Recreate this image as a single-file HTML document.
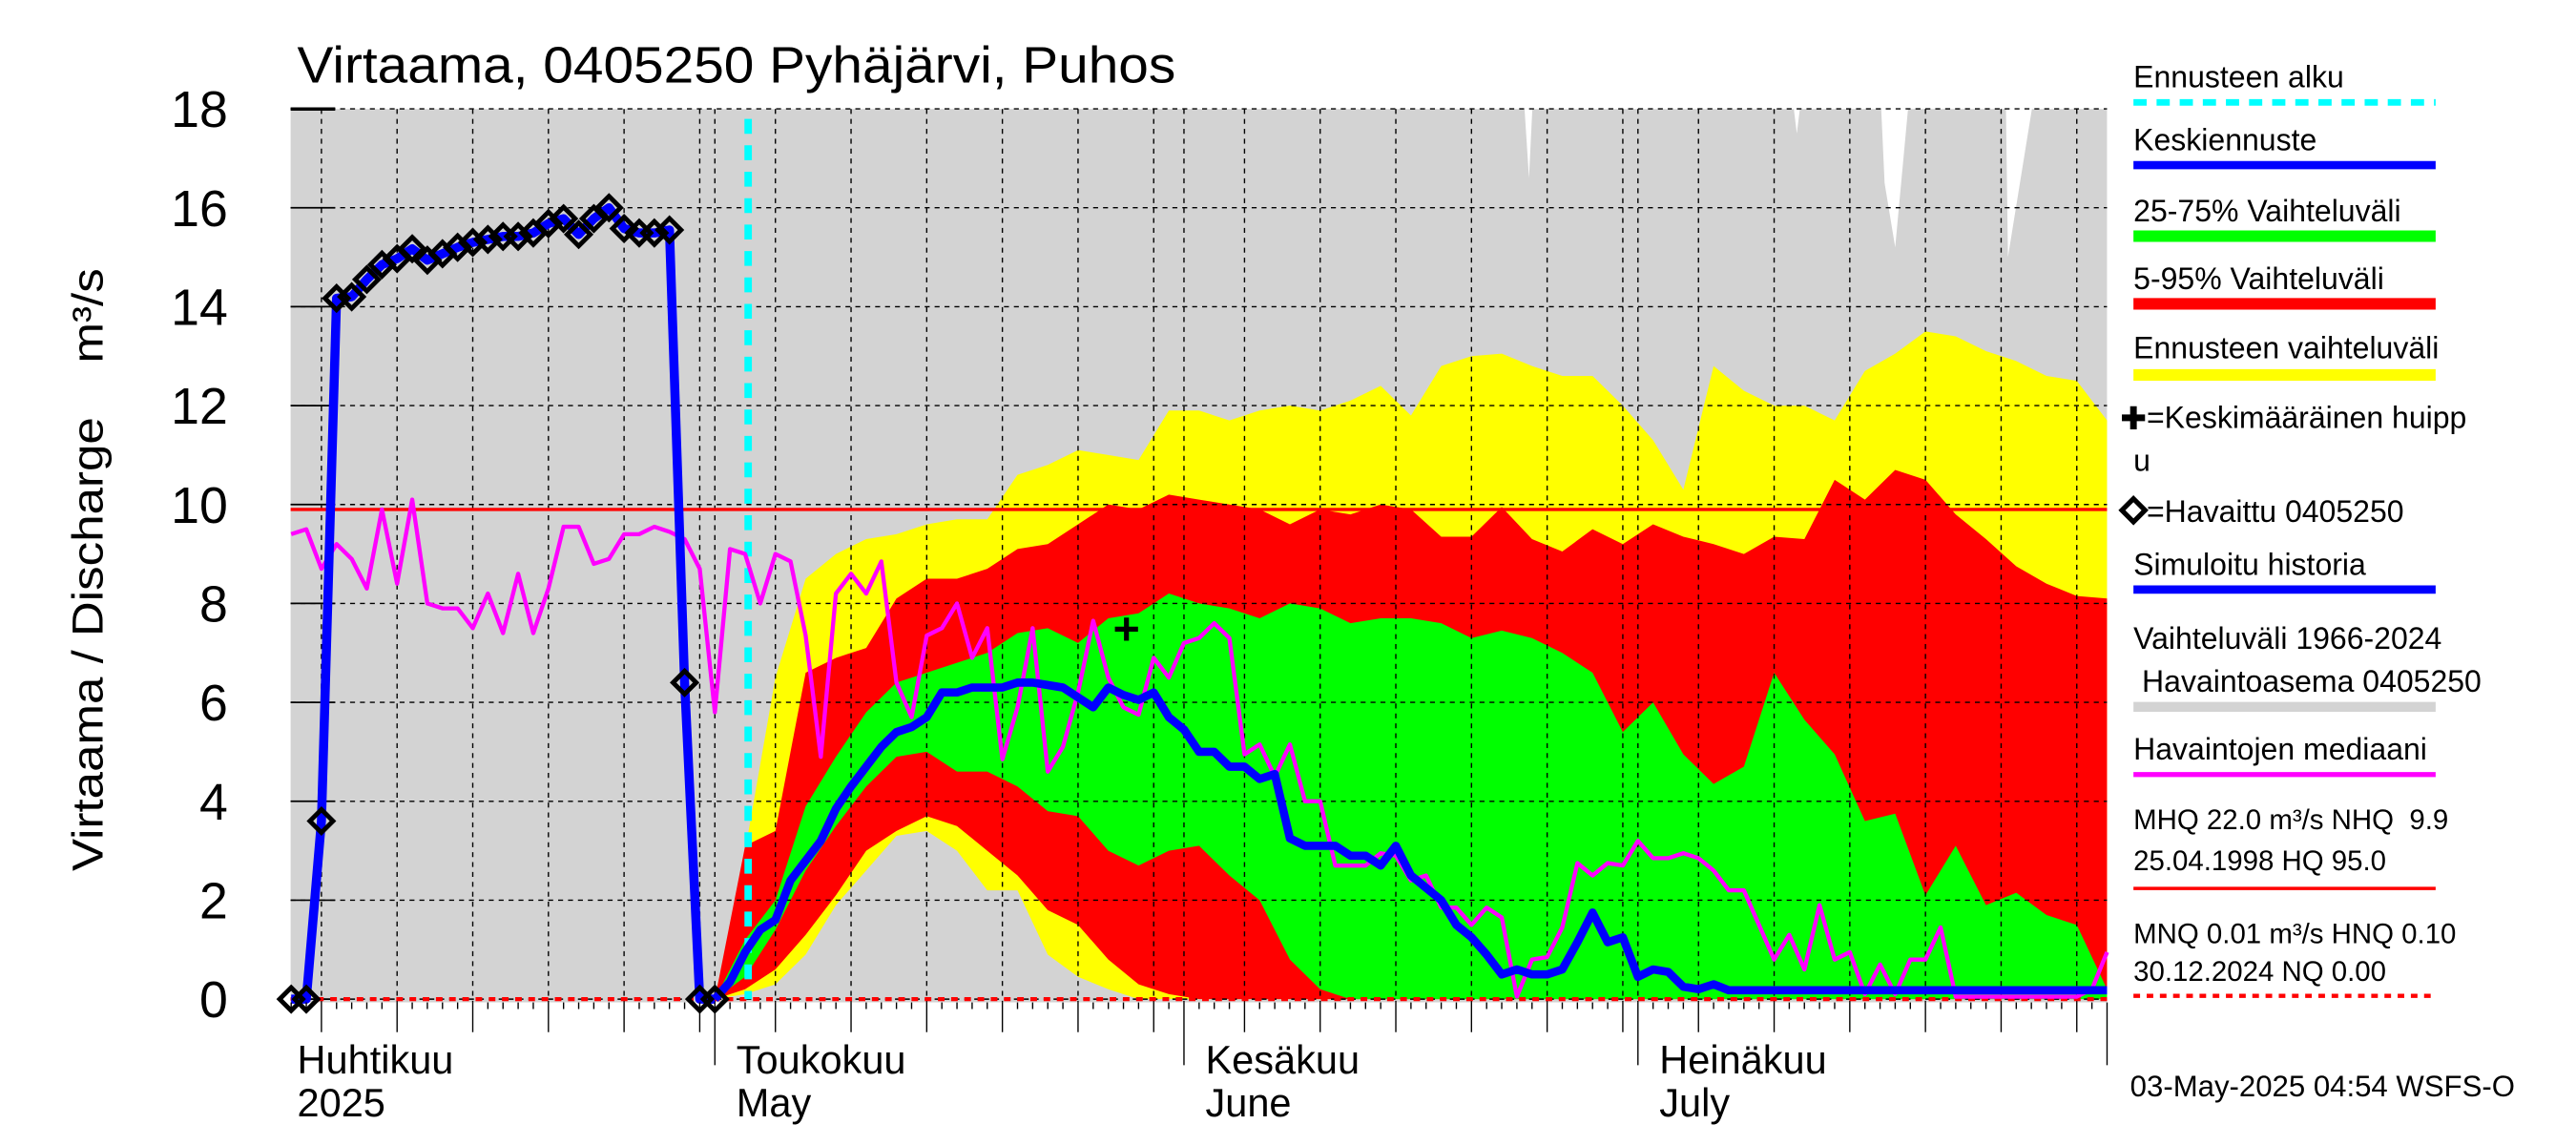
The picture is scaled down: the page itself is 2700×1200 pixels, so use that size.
<!DOCTYPE html>
<html><head><meta charset="utf-8"><title>Virtaama 0405250 Pyhäjärvi, Puhos</title>
<style>html,body{margin:0;padding:0;background:#fff;}svg{display:block;font-family:"Liberation Sans",Arial,sans-serif;}</style>
</head><body>
<svg id="chart" xmlns="http://www.w3.org/2000/svg" width="2700" height="1200" viewBox="0 0 1560 693.33" preserveAspectRatio="none">
<defs><clipPath id="plotclip"><rect x="176" y="66" width="1100" height="541"/></clipPath></defs>
<rect x="0" y="0" width="1560" height="693.33" fill="#fff"/>
<text x="180" y="50" font-size="31" textLength="532" lengthAdjust="spacingAndGlyphs">Virtaama, 0405250 Pyhäjärvi, Puhos</text>
<g id="bands" clip-path="url(#plotclip)"></g>
<g id="grid"></g>
<g id="lines"></g>
<g id="axes"></g>
<text transform="translate(62,345) rotate(-90)" font-size="26" text-anchor="middle" textLength="365" lengthAdjust="spacingAndGlyphs" xml:space="preserve" style="white-space:pre">Virtaama / Discharge    m³/s</text>
<g id="legend" font-size="18.5">
<text x="1292" y="53">Ennusteen alku</text>
<line x1="1292" y1="62" x2="1475" y2="62" stroke="#00ffff" stroke-width="4" stroke-dasharray="8,6"/>
<text x="1292" y="91">Keskiennuste</text>
<line x1="1292" y1="100" x2="1475" y2="100" stroke="#0000ff" stroke-width="5"/>
<text x="1292" y="134">25-75% Vaihteluväli</text>
<line x1="1292" y1="143" x2="1475" y2="143" stroke="#00ff00" stroke-width="7"/>
<text x="1292" y="175">5-95% Vaihteluväli</text>
<line x1="1292" y1="184" x2="1475" y2="184" stroke="#ff0000" stroke-width="7"/>
<text x="1292" y="217">Ennusteen vaihteluväli</text>
<line x1="1292" y1="227" x2="1475" y2="227" stroke="#ffff00" stroke-width="7"/>
<path d="M1285,253 h14 M1292,246 v14" stroke="#000" stroke-width="4"/>
<text x="1300" y="259">=Keskimääräinen huipp</text>
<text x="1292" y="285">u</text>
<path d="M1292,302 l7,7 l-7,7 l-7,-7 z" fill="none" stroke="#000" stroke-width="3"/>
<text x="1300" y="316">=Havaittu 0405250</text>
<text x="1292" y="348">Simuloitu historia</text>
<line x1="1292" y1="357" x2="1475" y2="357" stroke="#0000ff" stroke-width="5"/>
<text x="1292" y="393">Vaihteluväli 1966-2024</text>
<text x="1292" y="419" xml:space="preserve" style="white-space:pre"> Havaintoasema 0405250</text>
<line x1="1292" y1="428" x2="1475" y2="428" stroke="#d3d3d3" stroke-width="6"/>
<text x="1292" y="460">Havaintojen mediaani</text>
<line x1="1292" y1="469" x2="1475" y2="469" stroke="#ff00ff" stroke-width="3"/>
<text x="1292" y="502" font-size="17" xml:space="preserve" style="white-space:pre">MHQ 22.0 m³/s NHQ  9.9</text>
<text x="1292" y="527" font-size="17">25.04.1998 HQ 95.0</text>
<line x1="1292" y1="538" x2="1475" y2="538" stroke="#ff0000" stroke-width="2"/>
<text x="1292" y="571" font-size="17">MNQ 0.01 m³/s HNQ 0.10</text>
<text x="1292" y="594" font-size="17">30.12.2024 NQ 0.00</text>
<line x1="1292" y1="603" x2="1475" y2="603" stroke="#ff0000" stroke-width="2.5" stroke-dasharray="4,4"/>
<text x="1290" y="664" font-size="18">03-May-2025 04:54 WSFS-O</text>
</g>
</svg>
<script>
// ---- data ----
var obsStartDay = 2;
var observed = [0,0,3.6,14.17,14.2,14.55,14.85,14.97,15.17,14.94,15.07,15.2,15.3,15.36,15.42,15.42,15.49,15.68,15.78,15.46,15.78,16.0,15.58,15.49,15.49,15.55,6.4,0,0];
var fcStartDay = 30;
var meanForecast = [0,0.35,0.95,1.4,1.6,2.4,2.8,3.2,3.85,4.3,4.7,5.1,5.4,5.5,5.7,6.2,6.2,6.3,6.3,6.3,6.4,6.4,6.35,6.3,6.1,5.9,6.3,6.15,6.05,6.2,5.7,5.45,5.0,5.0,4.7,4.7,4.45,4.55,3.25,3.1,3.1,3.1,2.9,2.9,2.7,3.1,2.5,2.25,2.0,1.5,1.25,0.9,0.5,0.6,0.5,0.5,0.6,1.15,1.75,1.15,1.25,0.45,0.6,0.55,0.25,0.2,0.3,0.18,0.18,0.18,0.18,0.18,0.18,0.18,0.18,0.18,0.18,0.18,0.18,0.18,0.18,0.18,0.18,0.18,0.18,0.18,0.18,0.18,0.18,0.18,0.18,0.18,0.18];
var bandStartDay = 30, bandStep = 2;
var fcMax = [0,3.0,6.5,8.5,9.0,9.3,9.4,9.6,9.7,9.7,10.6,10.8,11.1,11.0,10.9,11.9,11.9,11.7,11.9,12.0,11.9,12.1,12.4,11.8,12.8,13.0,13.05,12.8,12.6,12.6,12.0,11.3,10.3,12.8,12.3,12.0,12.0,11.7,12.7,13.05,13.5,13.4,13.1,12.9,12.6,12.5,11.7];
var q95 = [0,3.1,3.4,6.6,6.9,7.1,8.1,8.5,8.5,8.7,9.1,9.2,9.6,10.0,9.9,10.2,10.1,10.0,9.9,9.6,9.9,9.8,10.0,9.9,9.35,9.35,9.95,9.3,9.05,9.5,9.2,9.6,9.35,9.2,9.0,9.35,9.3,10.5,10.1,10.7,10.5,9.8,9.3,8.75,8.4,8.15,8.1];
var q75 = [0,1.2,2.0,3.9,4.9,5.8,6.4,6.6,6.8,7.0,7.4,7.5,7.2,7.7,7.8,8.2,8.0,7.9,7.7,8.0,7.9,7.6,7.7,7.7,7.6,7.3,7.45,7.3,7.0,6.6,5.4,6.0,4.95,4.35,4.7,6.6,5.65,4.95,3.6,3.75,2.1,3.1,1.9,2.15,1.7,1.5,0.2];
var q25 = [0,0.45,1.4,2.6,3.5,4.3,4.9,5.0,4.6,4.6,4.3,3.8,3.7,3.0,2.7,3.0,3.1,2.5,2.0,0.8,0.2,0,0,0,0,0,0,0,0,0,0,0,0,0,0,0,0,0,0,0,0,0,0,0,0,0,0];
var q05 = [0,0.2,0.6,1.3,2.1,3.0,3.4,3.7,3.5,3.0,2.5,1.8,1.5,0.8,0.3,0.1,0,0,0,0,0,0,0,0,0,0,0,0,0,0,0,0,0,0,0,0,0,0,0,0,0,0,0,0,0,0,0];
var fcMin = [0,0.1,0.3,0.9,1.9,2.6,3.3,3.4,3.0,2.2,2.2,0.9,0.45,0.2,0,0,0,0,0,0,0,0,0,0,0,0,0,0,0,0,0,0,0,0,0,0,0,0,0,0,0,0,0,0,0,0,0];
var medStartDay = 2;
var median = [9.4,9.5,8.7,9.2,8.9,8.3,9.9,8.4,10.1,8.0,7.9,7.9,7.5,8.2,7.4,8.6,7.4,8.3,9.55,9.55,8.8,8.9,9.4,9.4,9.55,9.45,9.3,8.7,5.8,
9.1,9.0,8.0,9.0,8.85,7.35,4.9,8.2,8.6,8.2,8.85,6.4,5.7,7.35,7.5,8.0,6.9,7.5,4.85,5.9,7.5,4.6,5.1,6.2,7.65,6.5,5.9,5.75,6.9,6.5,7.2,7.3,7.6,7.3,4.95,5.15,4.5,5.15,4.0,4.0,2.7,2.7,2.7,2.95,2.9,2.4,2.5,
1.85,1.85,1.5,1.85,1.65,0.05,0.8,0.85,1.45,2.75,2.5,2.75,2.7,3.2,2.85,2.85,2.95,2.85,2.6,2.2,2.2,1.5,0.8,1.3,0.6,1.9,0.8,0.95,0.1,0.7,0.1,0.8,0.8,1.45,0.05,0.05,0.05,0.05,0.05,0.05,0.05,0.05,0.05,0.2,0.95];
var histMaxDays = [1.9,83.4,83.8,84.1,101.1,101.5,101.9,107.0,107.3,108.0,109.0,115.3,115.45,117.3,122];
var histMax = [18.5,18.5,16.6,18.5,18.5,17.5,18.5,18.5,16.5,15.2,18.5,18.5,15.0,18.5,18.5];
var peakDay = [57.2];
var peakValue = [7.48];
var forecastStartDay = 32.2;
var nhq = 9.9;
var nq = 0;
var yTicks = [0,2,4,6,8,10,12,14,16,18];
var monthStarts = [0,30,61,91,122];
var monthLabelsFi = ["Huhtikuu","Toukokuu","Kesäkuu","Heinäkuu"];
var monthLabelsEn = ["2025","May","June","July"];

// ---- axes ----
var X0 = 158, PXD = 9.164, Y0 = 605, PXV = 29.95;
var PL = 176, PR = 1276, PT = 66, PB = 607;
function xs(d){ return X0 + PXD*d; }
function ys(v){ return Y0 - PXV*v; }
var NS = "http://www.w3.org/2000/svg";
function mk(tag, attrs, parent){ var e = document.createElementNS(NS, tag); for (var k in attrs) e.setAttribute(k, attrs[k]); parent.appendChild(e); return e; }
var bands = document.getElementById('bands'), grid = document.getElementById('grid'), lines = document.getElementById('lines'), axes = document.getElementById('axes');

var p = "M" + xs(histMaxDays[0]) + "," + PB;
for (var i=0;i<histMax.length;i++) p += " L" + xs(histMaxDays[i]) + "," + ys(histMax[i]);
p += " L" + xs(histMaxDays[histMax.length-1]) + "," + PB + " Z";
var hist = mk('path', {d:p, fill:'#d3d3d3'}, bands);



function bandPath(top, bot){
  var s = "", n = top.length;
  for (var i=0;i<n;i++) s += (i?" L":"M") + xs(bandStartDay+i*bandStep) + "," + ys(top[i]);
  for (var j=n-1;j>=0;j--) s += " L" + xs(bandStartDay+j*bandStep) + "," + ys(bot[j]);
  return s + " Z";
}
var by = mk('path', {d:bandPath(fcMax, fcMin), fill:'#ffff00'}, bands);


var br = mk('path', {d:bandPath(q95, q05), fill:'#ff0000'}, bands);


var bg = mk('path', {d:bandPath(q75, q25), fill:'#00ff00'}, bands);



for (var i=0;i<yTicks.length;i++){
  var gy = ys(yTicks[i]);
  var gl = mk('line', {x1:PL, y1:gy, x2:PR, y2:gy, stroke:'#000', 'stroke-width':0.8, 'stroke-dasharray':'3,3'}, grid);
  
  
  var tk = mk('line', {x1:PL, y1:gy, x2:PL+27, y2:gy, stroke:'#000', 'stroke-width':1}, grid);
  
  
  var tl = mk('text', {x:138, y:gy+11, 'font-size':31, 'text-anchor':'end'}, axes);
  tl.textContent = yTicks[i];
  
  
}
for (var m=0;m<monthStarts.length-1;m++){
  for (var dd=1; monthStarts[m]+dd-1 < monthStarts[m+1]; dd++){
    var day = monthStarts[m]+dd-1;
    var x = xs(day);
    if (x < PL-0.5 || x > PR+0.5) continue;
    var isMonth = dd===1, is5 = dd%5===0;
    if (isMonth || is5){
      var vl = mk('line', {x1:x, y1:PT, x2:x, y2:PB, stroke:'#000', 'stroke-width':0.8, 'stroke-dasharray':'3,3'}, grid);
      
      
    }
    var len = isMonth ? 38 : (is5 ? 18 : 4);
    var t = mk('line', {x1:x, y1:PB, x2:x, y2:PB+len, stroke:'#000', 'stroke-width':0.8}, axes);
    
    
  }
}
var endTick = mk('line', {x1:xs(monthStarts[4]), y1:PB, x2:xs(monthStarts[4]), y2:PB+38, stroke:'#000', 'stroke-width':0.8}, axes);


for (var m=0;m<monthLabelsFi.length;m++){
  var lx = Math.max(xs(monthStarts[m]), PL) + 4 + (m===0?0:9);
  var t1 = mk('text', {x:lx, y:650, 'font-size':24}, axes);
  t1.textContent = monthLabelsFi[m];
  
  
  var t2 = mk('text', {x:lx, y:676, 'font-size':24}, axes);
  t2.textContent = monthLabelsEn[m];
  
  
}
var topTick = mk('line', {x1:PL, y1:PT, x2:PL+27, y2:PT, stroke:'#000', 'stroke-width':2}, axes);



var nhqLine = mk('line', {x1:PL, y1:ys(nhq), x2:PR, y2:ys(nhq), stroke:'#ff0000', 'stroke-width':2}, lines);


var nqLine = mk('line', {x1:PL, y1:ys(nq), x2:PR, y2:ys(nq), stroke:'#ff0000', 'stroke-width':2.5, 'stroke-dasharray':'4,4'}, lines);


var cy = mk('line', {x1:xs(forecastStartDay), y1:PT+6, x2:xs(forecastStartDay), y2:ys(0), stroke:'#00ffff', 'stroke-width':4.5, 'stroke-dasharray':'9,7'}, lines);



function polyPts(start, vals){ var s=""; for (var i=0;i<vals.length;i++) s += xs(start+i)+","+ys(vals[i])+" "; return s; }
var med = mk('polyline', {points:polyPts(medStartDay, median), fill:'none', stroke:'#ff00ff', 'stroke-width':2.5, 'stroke-linejoin':'round'}, lines);


var sim = mk('polyline', {points:polyPts(obsStartDay, observed), fill:'none', stroke:'#0000ff', 'stroke-width':5.5, 'stroke-linejoin':'round'}, lines);


var fc = mk('polyline', {points:polyPts(fcStartDay, meanForecast), fill:'none', stroke:'#0000ff', 'stroke-width':5, 'stroke-linejoin':'round'}, lines);


for (var i=0;i<observed.length;i++){
  var cx = xs(obsStartDay+i), cyv = ys(observed[i]);
  var dm = mk('path', {d:"M"+cx+","+(cyv-7)+" l7,7 l-7,7 l-7,-7 z", fill:'none', stroke:'#000', 'stroke-width':2.8}, lines);
  
  
}
for (var i=0;i<peakDay.length;i++){
  var px = xs(peakDay[i]), py = ys(peakValue[i]);
  var pk = mk('path', {d:"M"+(px-7)+","+py+" h14 M"+px+","+(py-7)+" v14", stroke:'#000', 'stroke-width':3}, lines);
  
  
}
</script>
</body></html>
